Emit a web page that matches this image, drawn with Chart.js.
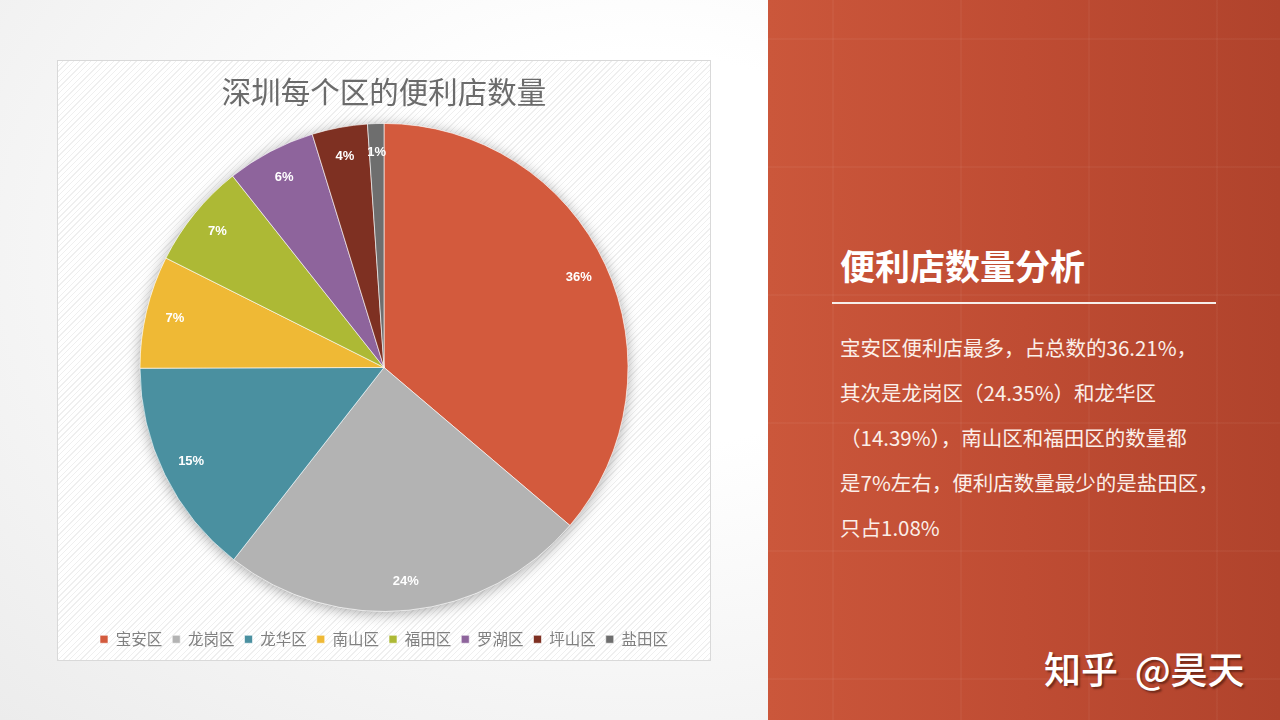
<!DOCTYPE html>
<html>
<head>
<meta charset="utf-8">
<script src="https://cdn.jsdelivr.net/npm/chart.js@4"></script>
<style>
  html, body { margin: 0; padding: 0; }
  body {
    width: 1280px; height: 720px; position: relative; overflow: hidden;
    font-family: "Noto Sans CJK SC", "Noto Sans", sans-serif;
    background: radial-gradient(ellipse at 50% 35%, #ffffff 30%, #ececec 100%);
  }
  #chartBox {
    position: absolute; left: 57px; top: 60px; width: 652px; height: 599px;
    border: 1px solid #d9d9d9;
    background: repeating-linear-gradient(135deg, #ffffff 0px, #ffffff 3px, #efefef 3px, #efefef 4px);
  }
  #chartBox canvas { position: absolute; left: 0; top: 0; }
  #panel {
    position: absolute; left: 768px; top: 0; width: 512px; height: 720px;
    background:
      repeating-linear-gradient(90deg, transparent 0px, transparent 64px, rgba(255,255,255,0.035) 64px, rgba(255,255,255,0.035) 66px, transparent 66px, transparent 128px),
      repeating-linear-gradient(0deg, transparent 0px, transparent 40px, rgba(255,255,255,0.035) 40px, rgba(255,255,255,0.035) 42px, transparent 42px, transparent 128px),
      linear-gradient(90deg, #cb573b 0%, #bf4c33 50%, #b0432c 100%);
  }
  #panel h2 {
    position: absolute; left: 72px; top: 239px; margin: 0;
    font-size: 35px; font-weight: 700; color: #ffffff;
  }
  #panel .rule {
    position: absolute; left: 64px; top: 302px; width: 384px; height: 2px; background: #f6eeea;
  }
  #panel p {
    position: absolute; left: 72px; top: 325px; margin: 0;
    font-size: 20.5px; line-height: 45px; color: #fbefe9; white-space: nowrap;
  }
  #sign {
    position: absolute; left: 1044px; top: 641px;
    font-size: 37px; color: #ffffff; font-weight: 500;
    text-shadow: 2px 2px 2px rgba(60,20,10,0.6);
  }
</style>
</head>
<body>
<div id="chartBox"><canvas id="pie" width="652" height="599"></canvas></div>
<div id="panel">
  <h2>便利店数量分析</h2>
  <div class="rule"></div>
  <p>宝安区便利店最多，占总数的36.21%，<br>其次是龙岗区（24.35%）和龙华区<br>（14.39%），南山区和福田区的数量都<br>是7%左右，便利店数量最少的是盐田区，<br>只占1.08%</p>
</div>
<div id="sign">知乎&nbsp;&nbsp;@昊天</div>
<script>
// 各区便利店占比 (%)
const districts = ["宝安区", "龙岗区", "龙华区", "南山区", "福田区", "罗湖区", "坪山区", "盐田区"];
const shares = [36.21, 24.35, 14.39, 7.45, 6.95, 5.9, 3.67, 1.08];
// 图上显示的百分比标签
const shareLabels = ["36%", "24%", "15%", "7%", "7%", "6%", "4%", "1%"];
const sliceColors = ["#D35A3D", "#B3B3B3", "#4A90A0", "#EFB935", "#ADB935", "#8E649C", "#7E3022", "#6E6E6E"];

// 饼图阴影：先画一个带阴影的整圆，再画扇区
const pieShadow = {
  id: "pieShadow",
  beforeDatasetsDraw(chart) {
    const arc = chart.getDatasetMeta(0).data[0];
    if (!arc) return;
    const ctx = chart.ctx;
    ctx.save();
    ctx.shadowColor = "rgba(0,0,0,0.35)";
    ctx.shadowBlur = 14;
    ctx.shadowOffsetY = 2;
    ctx.fillStyle = "#ffffff";
    ctx.beginPath();
    ctx.arc(arc.x, arc.y, arc.outerRadius, 0, Math.PI * 2);
    ctx.fill();
    ctx.restore();
  }
};

// 扇区内百分比标签
const sliceLabels = {
  id: "sliceLabels",
  afterDatasetsDraw(chart) {
    const ctx = chart.ctx;
    const meta = chart.getDatasetMeta(0);
    ctx.save();
    ctx.font = "bold 13px 'Liberation Sans', Arial, sans-serif";
    ctx.fillStyle = "#ffffff";
    ctx.textAlign = "center";
    ctx.textBaseline = "middle";
    meta.data.forEach((arc, i) => {
      const mid = (arc.startAngle + arc.endAngle) / 2;
      const r = arc.outerRadius * 0.88;
      ctx.fillText(shareLabels[i], arc.x + Math.cos(mid) * r, arc.y + Math.sin(mid) * r);
    });
    ctx.restore();
  }
};

new Chart(document.getElementById("pie"), {
  type: "pie",
  data: {
    labels: districts,
    datasets: [{
      data: shares,
      backgroundColor: sliceColors,
      borderColor: "rgba(255,255,255,0.6)",
      borderWidth: 1,
      radius: 244
    }]
  },
  options: {
    responsive: false,
    animation: false,
    layout: { padding: { left: 0, right: 0, top: 0, bottom: 3 } },
    plugins: {
      title: {
        display: true,
        text: "深圳每个区的便利店数量",
        color: "#6b6b6b",
        font: { family: "'Noto Sans CJK SC'", size: 29.5, weight: "normal" },
        padding: { top: 13, bottom: 4 }
      },
      legend: {
        position: "bottom",
        labels: {
          color: "#808080",
          font: { family: "'Noto Sans CJK SC'", size: 15.5 },
          boxWidth: 8,
          boxHeight: 8,
          padding: 10
        }
      },
      tooltip: { enabled: false }
    }
  },
  plugins: [pieShadow, sliceLabels]
});
</script>
</body>
</html>
